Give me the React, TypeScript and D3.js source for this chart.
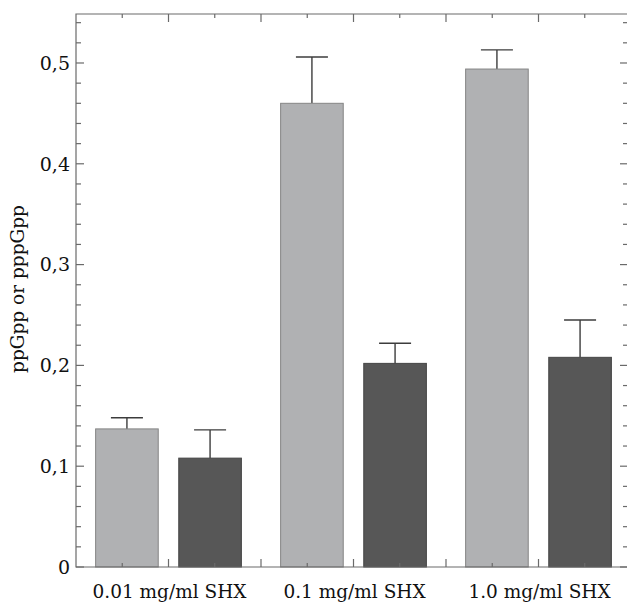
import { useEffect, useRef } from 'react';
import * as d3 from 'd3';

// data
const doses = ['0.01 mg/ml SHX', '0.1 mg/ml SHX', '1.0 mg/ml SHX'];
const series = ['ppGpp', 'pppGpp'];
const ppGppValues = [0.137, 0.46, 0.494];
const ppGppErrors = [0.011, 0.046, 0.019];
const pppGppValues = [0.108, 0.202, 0.208];
const pppGppErrors = [0.028, 0.02, 0.037];
const yTicks = [0, 0.1, 0.2, 0.3, 0.4, 0.5];
const yTickLabels = ['0', '0,1', '0,2', '0,3', '0,4', '0,5'];

const W = 627;
const H = 607;
const FONT = 'DejaVu Serif, serif';

export default function App() {
  const svgRef = useRef<SVGSVGElement>(null);

  useEffect(() => {
    if (!svgRef.current) return;
    const svg = d3.select(svgRef.current);
    svg.selectAll('*').remove();

    const left = 76, right = 631, top = 14, bottom = 567;

    const y = d3.scaleLinear().domain([0, 0.5486]).range([bottom, top]);
    // continuous x axis (0..12) that carries the frame ticks
    const xLin = d3.scaleLinear().domain([0, 12]).range([left, right]);
    const x0 = d3.scaleBand().domain(doses).range([left, right]).padding(0);
    const x1 = d3.scaleBand().domain(series)
      .range([0, x0.bandwidth()]).paddingInner(0.247).paddingOuter(0.236);

    const rows = doses.map((d, i) => ({
      dose: d,
      bars: [
        { key: 'ppGpp', value: ppGppValues[i], err: ppGppErrors[i] },
        { key: 'pppGpp', value: pppGppValues[i], err: pppGppErrors[i] },
      ],
    }));

    const fill: Record<string, string> = { ppGpp: '#b0b1b3', pppGpp: '#575757' };
    const stroke: Record<string, string> = { ppGpp: '#858585', pppGpp: '#454545' };

    const g = svg.append('g');

    const grp = g.selectAll('g.grp').data(rows).join('g')
      .attr('class', 'grp')
      .attr('transform', d => `translate(${x0(d.dose)},0)`);

    // error bars (upper half only)
    grp.selectAll('g.err').data(d => d.bars).join('g')
      .attr('class', 'err')
      .each(function (d) {
        const cx = x1(d.key)! + x1.bandwidth() / 2;
        const e = d3.select(this);
        e.append('line')
          .attr('x1', cx).attr('x2', cx)
          .attr('y1', y(d.value)).attr('y2', y(d.value + d.err))
          .attr('stroke', '#3c3c3c').attr('stroke-width', 1.4);
        e.append('line')
          .attr('x1', cx - 16).attr('x2', cx + 16)
          .attr('y1', y(d.value + d.err)).attr('y2', y(d.value + d.err))
          .attr('stroke', '#3c3c3c').attr('stroke-width', 1.4);
      });

    grp.selectAll('rect').data(d => d.bars).join('rect')
      .attr('x', d => x1(d.key)!)
      .attr('width', x1.bandwidth())
      .attr('y', d => y(d.value))
      .attr('height', d => bottom - y(d.value))
      .attr('fill', d => fill[d.key])
      .attr('stroke', d => stroke[d.key])
      .attr('stroke-width', 1);

    // frame
    const axisColor = '#6a6a6a';
    g.append('path')
      .attr('d', `M${right},${top}H${left}V${bottom}H${right}V${top}`)
      .attr('fill', 'none').attr('stroke', axisColor).attr('stroke-width', 1.2);

    // y ticks (left and right, inward)
    d3.range(0, 0.55, 0.02).forEach(v => {
      const major = Math.abs(v * 10 - Math.round(v * 10)) < 1e-6;
      const len = major ? 8 : 5;
      g.append('line').attr('x1', left).attr('x2', left + len)
        .attr('y1', y(v)).attr('y2', y(v))
        .attr('stroke', axisColor).attr('stroke-width', 1.2);
      g.append('line').attr('x1', right).attr('x2', right - len - 3)
        .attr('y1', y(v)).attr('y2', y(v))
        .attr('stroke', axisColor).attr('stroke-width', 1.2);
    });

    // x ticks (bottom and top, inward)
    d3.range(1, 12).forEach(v => {
      const len = v % 2 === 0 ? 8 : 4;
      g.append('line').attr('x1', xLin(v)).attr('x2', xLin(v))
        .attr('y1', bottom).attr('y2', bottom - len)
        .attr('stroke', axisColor).attr('stroke-width', 1.2);
      g.append('line').attr('x1', xLin(v)).attr('x2', xLin(v))
        .attr('y1', top).attr('y2', top + len)
        .attr('stroke', axisColor).attr('stroke-width', 1.2);
    });

    // y tick labels
    g.selectAll('text.yt').data(yTicks).join('text')
      .attr('class', 'yt')
      .attr('x', left - 6)
      .attr('y', d => y(d))
      .attr('dy', '0.36em')
      .attr('text-anchor', 'end')
      .attr('font-family', FONT)
      .attr('font-size', 19)
      .attr('fill', '#111')
      .text((d, i) => yTickLabels[i]);

    // category labels
    g.selectAll('text.xt').data(doses).join('text')
      .attr('class', 'xt')
      .attr('x', d => x0(d)! + x0.bandwidth() / 2 + 1)
      .attr('y', 598)
      .attr('text-anchor', 'middle')
      .attr('font-family', FONT)
      .attr('font-size', 18.5)
      .attr('fill', '#111')
      .text(d => d);

    // y axis title
    g.append('text')
      .attr('transform', `translate(24,289) rotate(-90)`)
      .attr('text-anchor', 'middle')
      .attr('font-family', FONT)
      .attr('font-size', 18.5)
      .attr('fill', '#111')
      .text('ppGpp or pppGpp');
  }, []);

  return (
    <svg ref={svgRef} width={W} height={H}
      style={{ position: 'absolute', left: 0, top: 0, background: '#fff' }} />
  );
}
